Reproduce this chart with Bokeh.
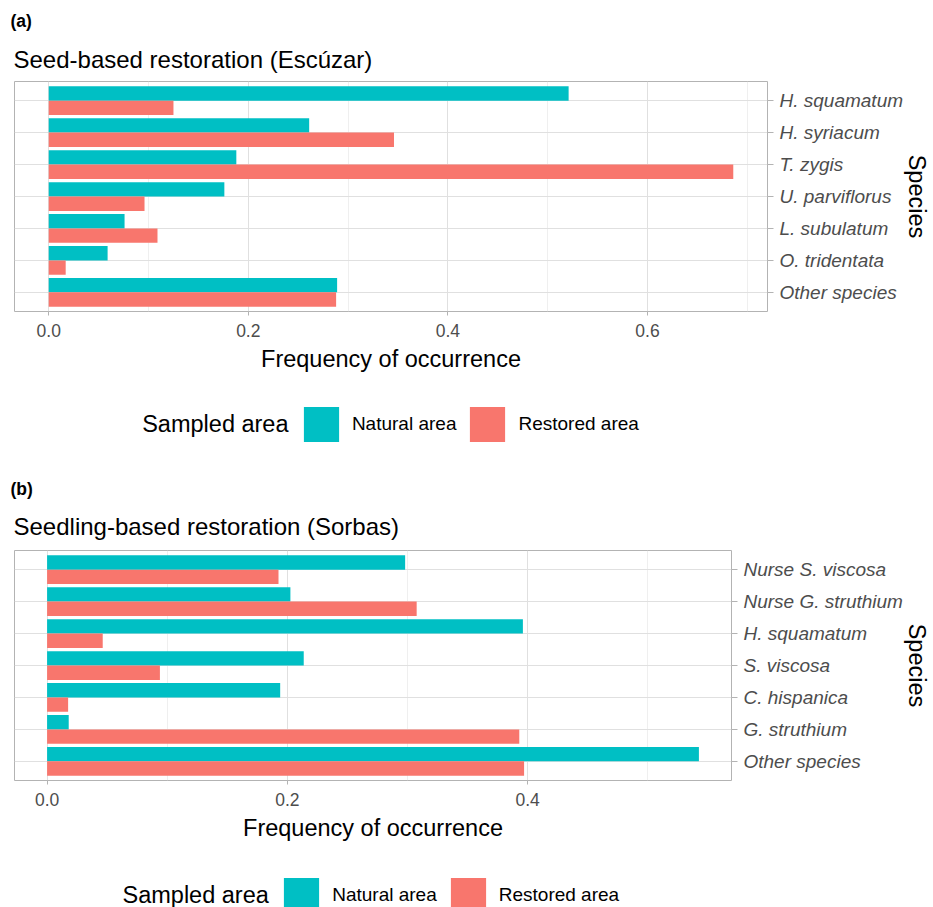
from bokeh.plotting import figure
from bokeh.models import (FactorRange, Range1d, FixedTicker, Legend, LegendItem, Title,
                          ColumnDataSource, PrintfTickFormatter, Label)
from bokeh.transform import dodge
from bokeh.layouts import column, row
from bokeh.embed import file_html
from bokeh.resources import INLINE

# ---------------- data ----------------
species_a = ["H. squamatum", "H. syriacum", "T. zygis", "U. parviflorus",
             "L. subulatum", "O. tridentata", "Other species"]
natural_a = [0.521, 0.261, 0.188, 0.176, 0.076, 0.059, 0.289]
restored_a = [0.125, 0.346, 0.686, 0.096, 0.109, 0.017, 0.288]

species_b = ["Nurse S. viscosa", "Nurse G. struthium", "H. squamatum", "S. viscosa",
             "C. hispanica", "G. struthium", "Other species"]
natural_b = [0.298, 0.2025, 0.396, 0.2136, 0.194, 0.018, 0.5425]
restored_b = [0.1926, 0.3076, 0.0463, 0.0939, 0.0175, 0.393, 0.397]

x_ticks = [0.0, 0.2, 0.4, 0.6]
x_minor = [0.1, 0.3, 0.5, 0.7]
area_labels = ["Natural area", "Restored area"]
area_colors = ["#00BFC4", "#F8766D"]
legend_title = "Sampled area"
x_title = "Frequency of occurrence"
y_title = "Species"

FONT = "Liberation Sans"
W = 933


def make_panel(tag, title, species, natural, restored, height, top, bottom, right,
               title_standoff, tag_standoff):
    src = ColumnDataSource(dict(species=species, natural=natural, restored=restored))
    vmax = max(max(natural), max(restored))
    pad = vmax * 0.05
    p = figure(width=W, height=height,
               y_range=FactorRange(factors=list(reversed(species)),
                                   range_padding=0.1, range_padding_units="absolute"),
               x_range=Range1d(-pad, vmax + pad),
               y_axis_location="right", x_axis_location="below",
               output_backend="svg", toolbar_location=None, tools="",
               min_border_left=14, min_border_right=right,
               min_border_top=top, min_border_bottom=bottom)
    p.background_fill_color = "white"
    p.border_fill_color = "white"
    p.outline_line_color = "#B3B3B3"
    p.outline_line_width = 1

    p.hbar(y=dodge("species", 0.225, range=p.y_range), right="natural", left=0,
           height=0.45, source=src, fill_color=area_colors[0], line_color=None)
    p.hbar(y=dodge("species", -0.225, range=p.y_range), right="restored", left=0,
           height=0.45, source=src, fill_color=area_colors[1], line_color=None)

    # grids
    p.xgrid.ticker = FixedTicker(ticks=x_ticks, minor_ticks=x_minor)
    p.xgrid.grid_line_color = "#E0E0E0"
    p.xgrid.grid_line_width = 1
    p.xgrid.minor_grid_line_color = "#EBEBEB"
    p.xgrid.minor_grid_line_width = 0.8
    p.ygrid.grid_line_color = "#E0E0E0"
    p.ygrid.grid_line_width = 1

    # x axis
    xa = p.xaxis[0]
    xa.ticker = FixedTicker(ticks=x_ticks, minor_ticks=x_minor)
    xa.formatter = PrintfTickFormatter(format="%.1f")
    xa.axis_line_color = None
    xa.major_tick_line_color = "#B3B3B3"
    xa.major_tick_out = 4
    xa.major_tick_in = 0
    xa.minor_tick_out = 0
    xa.minor_tick_in = 0
    xa.major_label_standoff = 8
    xa.major_label_text_font = FONT
    xa.major_label_text_font_size = "17.5px"
    xa.major_label_text_color = "#4D4D4D"
    xa.axis_label = x_title
    xa.axis_label_text_font = FONT
    xa.axis_label_text_font_size = "23.5px"
    xa.axis_label_text_font_style = "normal"
    xa.axis_label_text_color = "black"
    xa.axis_label_standoff = 6

    # y axis (right)
    ya = p.yaxis[0]
    ya.axis_line_color = None
    ya.major_tick_line_color = "#B3B3B3"
    ya.major_tick_out = 6
    ya.major_tick_in = 0
    ya.major_label_standoff = 6
    ya.major_label_text_font = FONT
    ya.major_label_text_font_size = "19px"
    ya.major_label_text_font_style = "italic"
    ya.major_label_text_color = "#4D4D4D"
    ya.axis_label = y_title
    ya.axis_label_text_font = FONT
    ya.axis_label_text_font_size = "23.5px"
    ya.axis_label_text_font_style = "normal"
    ya.axis_label_text_color = "black"
    ya.axis_label_standoff = -2

    # titles
    p.add_layout(Title(text=title, text_font=FONT, text_font_size="24px",
                       text_font_style="normal", text_color="black", align="left",
                       offset=-1, standoff=title_standoff), "above")
    p.add_layout(Title(text=tag, text_font=FONT, text_font_size="17.5px",
                       text_font_style="bold", text_color="black", align="left",
                       offset=-4, standoff=tag_standoff), "above")
    return p


def make_legend(height, title_x, title_y, legend_x, legend_y):
    q = figure(width=W, height=height, x_range=Range1d(0, W), y_range=Range1d(0, height),
               x_axis_location=None, y_axis_location=None,
               output_backend="svg", toolbar_location=None, tools="",
               min_border=0, min_border_left=0, min_border_right=0,
               min_border_top=0, min_border_bottom=0)
    q.outline_line_color = None
    q.background_fill_color = "white"
    q.border_fill_color = "white"
    q.grid.visible = False
    # zero-size key renderers (only used to draw the legend keys)
    r0 = q.hbar(y=[0], left=[0], right=[0], height=0, fill_color=area_colors[0],
                line_color=None)
    r1 = q.hbar(y=[0], left=[0], right=[0], height=0, fill_color=area_colors[1],
                line_color=None)
    q.add_layout(Label(x=title_x, y=title_y, text=legend_title, text_font=FONT,
                       text_font_size="23.5px", text_color="black",
                       text_baseline="alphabetic", text_align="left"))
    legend = Legend(items=[LegendItem(label=area_labels[0], renderers=[r0]),
                           LegendItem(label=area_labels[1], renderers=[r1])],
                    orientation="horizontal", location=(legend_x, legend_y),
                    label_text_font=FONT, label_text_font_size="19px",
                    label_text_color="black",
                    glyph_width=44, glyph_height=44, label_standoff=9, spacing=9,
                    padding=0, margin=0, border_line_color=None,
                    background_fill_alpha=0)
    q.add_layout(legend, "center")
    return q


pa = make_panel("(a)", "Seed-based restoration (Escúzar)", species_a, natural_a, restored_a,
                380, 81, 69, 166, 18, 8)
la = make_legend(80, 141.7, 36.3, 298.9, 14.4)
pb = make_panel("(b)", "Seedling-based restoration (Sorbas)", species_b, natural_b, restored_b,
                390, 90, 70, 202, 21, 3)
lb = make_legend(57, 122.0, 12.3, 279.2, -9.6)

layout = column(row(pa), row(la), row(pb), row(lb), spacing=0)
open("out.html", "w").write(file_html(layout, INLINE))
